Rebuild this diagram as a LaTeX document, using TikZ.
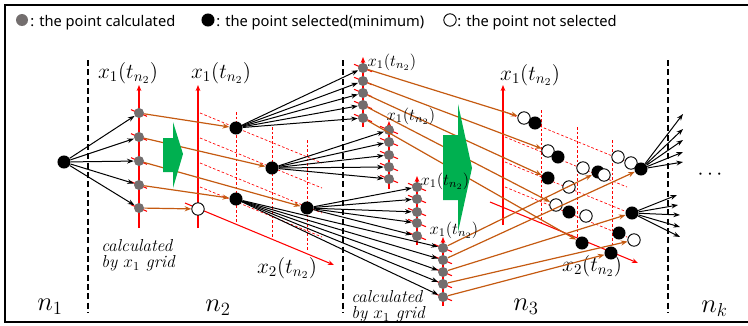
\documentclass[tikz,border=0pt]{standalone}
\usepackage{fix-cm}
\usepackage{fontspec}
\newfontfamily\legendfont{Noto Sans}
\usetikzlibrary{arrows.meta}
\definecolor{dotgray}{RGB}{115,110,110}
\definecolor{org}{RGB}{197,90,17}
\definecolor{grn}{RGB}{0,176,80}
\begin{document}
\begin{tikzpicture}[x=0.75pt,y=-0.75pt,
  gdot/.style={circle,fill=dotgray,inner sep=0pt,minimum size=7.5pt},
  bdot/.style={circle,fill=black,inner sep=0pt,minimum size=9.8pt},
  odot/.style={circle,draw=black,fill=white,line width=0.7pt,inner sep=0pt,minimum size=9.3pt},
  blkarr/.style={-{Stealth[length=5pt,width=3.6pt]},line width=0.75pt},
  orgarr/.style={org,-{Stealth[length=5pt,width=3.8pt]},line width=0.9pt},
  raxis/.style={red,line width=0.8pt,-{Stealth[length=4.5pt,width=3.5pt]}},
  rtick/.style={red,line width=0.8pt},
  rgrid/.style={red,line width=0.5pt,dash pattern=on 2pt off 1.5pt},
  sep/.style={line width=1.3pt,dash pattern=on 4.5pt off 2.5pt},
  mlab/.style={font=\fontsize{16}{18}\selectfont},
  slab/.style={font=\fontsize{12.5}{14}\selectfont},
  nlab/.style={font=\fontsize{20}{22}\selectfont,anchor=base west,inner sep=0pt},
  calc/.style={font=\fontsize{13}{12.5}\selectfont\itshape,align=left,anchor=north west,inner sep=0pt},
  leg/.style={font=\legendfont\fontsize{11}{13}\selectfont,anchor=base west,inner sep=0pt},
  grnarrow/.style={fill=grn}
]
\useasboundingbox (0,0) rectangle (748,325);
% frame
\draw[line width=1pt] (749,5) -- (5,5) -- (5,322) -- (749,322);
% stage separators
\draw[sep] (88,60) -- (88,313);
\draw[sep] (343,60) -- (343,313);
\draw[sep] (668,60) -- (668,313);

% legend
\node[gdot,minimum size=9pt] (lg1) at (22,20) {};
\node[leg] (lt1) at (30,26) {: the point calculated};
\node[bdot] (lg2) at (208,20) {};
\node[leg] (lt2) at (216,26) {: the point selected(minimum)};
\node[odot] (lg3) at (450,20) {};
\node[leg] (lt3) at (457,26) {: the point not selected};

% ---------- stage 1 ----------
\draw[raxis] (139,228) -- (139,85);
\node[mlab] (l1) at (128,73) {$x_1(t_{n_2})$};
\foreach \y in {113,137,161,185,208} \draw[rtick] (131,\y-3.3) -- (147,\y+3.3);

% ---------- stage 2 grid ----------
\draw[raxis] (198,228) -- (198,85);
\node[mlab] (l2) at (221,73) {$x_1(t_{n_2})$};
\draw[raxis] (185,203) -- (334,265);
\node[mlab] (l3) at (287,268) {$x_2(t_{n_2})$};
\draw[rgrid] (236,112) -- (236,223);
\draw[rgrid] (272,127) -- (272,238);
\draw[rgrid] (307,140) -- (307,252);
\foreach \y in {113,138,163,187} \draw[rgrid] (200,\y) -- (322,\y+50);

% ---------- stage 3 small axes ----------
\draw[raxis] (363,127) -- (363,57);
\draw[raxis] (389,189) -- (389,121);
\draw[raxis] (417,245) -- (417,176);
\draw[raxis] (443,306) -- (443,237);
\foreach \x/\ys in {363/{68,81,93,105,118},389/{130,142,155,167,179},417/{187,199,212,223,236},443/{248,260,272,284,297}}
  \foreach \y in \ys \draw[rtick] (\x-9,\y-3.7) -- (\x+9,\y+3.7);

% ---------- right grid ----------
\draw[raxis] (503,225) -- (503,85);
\node[mlab] (l4) at (530,75) {$x_1(t_{n_2})$};
\draw[raxis] (490,202) -- (638,263);
\node[mlab] (l5) at (592,266) {$x_2(t_{n_2})$};
\draw[rgrid] (541,110) -- (541,223);
\draw[rgrid] (577,127) -- (577,240);
\draw[rgrid] (612,140) -- (612,253);
\foreach \y in {112,137,162,187} \draw[rgrid] (505,\y) -- (627,\y+50);

% ---------- nodes ----------
\node[bdot] (s0) at (64,162) {};
\foreach \y [count=\i] in {113,137,161,185,208} \node[gdot] (a\i) at (139,\y) {};
\node[odot] (o0) at (198,209) {};
\node[bdot] (p1) at (236,128) {};
\node[bdot] (p2) at (272,168) {};
\node[bdot] (p3) at (307,208) {};
\node[bdot] (p4) at (236,199) {};
\foreach \y [count=\i] in {68,81,93,105,118} \node[gdot] (A\i) at (363,\y) {};
\foreach \y [count=\i] in {130,142,155,167,179} \node[gdot] (B\i) at (389,\y) {};
\foreach \y [count=\i] in {187,199,212,223,236} \node[gdot] (C\i) at (417,\y) {};
\foreach \y [count=\i] in {248,260,272,284,297} \node[gdot] (D\i) at (443,\y) {};

% right grid points
\node[odot] (r1o) at (524,118) {};
\node[bdot] (r1b) at (535,123) {};
\node[odot] (r2o) at (548,151) {};
\node[bdot] (r2b) at (558,157) {};
\node[bdot] (r3b) at (548,178) {};
\node[odot] (r3o) at (569,187) {};
\node[odot] (r4o) at (583,168) {};
\node[bdot] (r4b) at (598,172) {};
\node[odot] (r4p) at (604,175) {};
\node[odot] (r5o) at (618,157) {};
\node[odot] (r5p) at (631,163) {};
\node[bdot] (r5b) at (641,169) {};
\node[odot] (r6o) at (556,205) {};
\node[bdot] (r6b) at (569,212) {};
\node[odot] (r6p) at (586,216) {};
\node[bdot] (r7b) at (632,213) {};
\node[bdot] (r8b) at (619,233) {};
\node[odot] (r8o) at (634,240) {};
\node[bdot] (r9b) at (582,243) {};
\node[bdot] (r10b) at (611,253) {};

% fan end coordinates
\coordinate (u1) at (683,114);
\coordinate (u2) at (683,129);
\coordinate (u3) at (683,140);
\coordinate (u4) at (683,152);
\coordinate (u5) at (683,162);
\coordinate (w1) at (677,195);
\coordinate (w2) at (678,205);
\coordinate (w3) at (680,215);
\coordinate (w4) at (680,227);
\coordinate (w5) at (680,237);

% ---------- connectors ----------
\foreach \i in {1,...,5} \draw[blkarr] (s0) -- (a\i);
\draw[orgarr] (a1) -- (p1);
\draw[orgarr] (a2) -- (p2);
\draw[orgarr] (a3) -- (p3);
\draw[orgarr] (a4) -- (p4);
\draw[orgarr] (a5) -- (o0);
\foreach \i in {1,...,5} {
  \draw[blkarr] (p1) -- (A\i);
  \draw[blkarr] (p2) -- (B\i);
  \draw[blkarr] (p3) -- (C\i);
  \draw[blkarr] (p4) -- (D\i);
  \draw[blkarr] (r5b) -- (u\i);
  \draw[blkarr] (r7b) -- (w\i);
}
\draw[orgarr] (A1) -- (r1o);
\draw[orgarr] (A2) -- (r2o);
\draw[orgarr] (A3) -- (r3b);
\draw[orgarr] (A4) -- (r6o);
\draw[orgarr] (A5) -- (r9b);
\draw[orgarr] (D1) -- (r4b);
\draw[orgarr] (D2) -- (r5b);
\draw[orgarr] (D3) -- (r7b);
\draw[orgarr] (D4) -- (r8o);
\draw[orgarr] (D5) -- (r10b);

% ---------- green block arrows ----------
\fill[grnarrow] (163,138) -- (173,138) -- (173,122) -- (183,154) -- (173,188) -- (173,172) -- (163,172) -- cycle;
\fill[grnarrow] (443,135) -- (458,135) -- (458,104) -- (472,168) -- (458,232) -- (458,200) -- (443,200) -- cycle;

% ---------- texts ----------
\node[slab] (lA) at (392,62) {$x_1(t_{n_2})$};
\node[slab] (lB) at (411,116) {$x_1(t_{n_2})$};
\node[slab] (lC) at (445,181) {$x_1(t_{n_2})$};
\node[slab] (lD) at (454,230) {$x_1(t_{n_2})$};
\node[calc] (c1) at (101,239) {calculated\\by $x_1$ grid};
\node[calc] (c2) at (351,290) {calculated\\by $x_1$ grid};
\node[nlab] (n1) at (37,310) {$n_1$};
\node[nlab] (n2) at (205,311) {$n_2$};
\node[nlab] (n3) at (513,310) {$n_3$};
\node[nlab] (nk) at (701,312) {$n_k$};
\node[font=\fontsize{16}{18}\selectfont] (dots) at (710,175) {$\cdots$};
\end{tikzpicture}
\end{document}
